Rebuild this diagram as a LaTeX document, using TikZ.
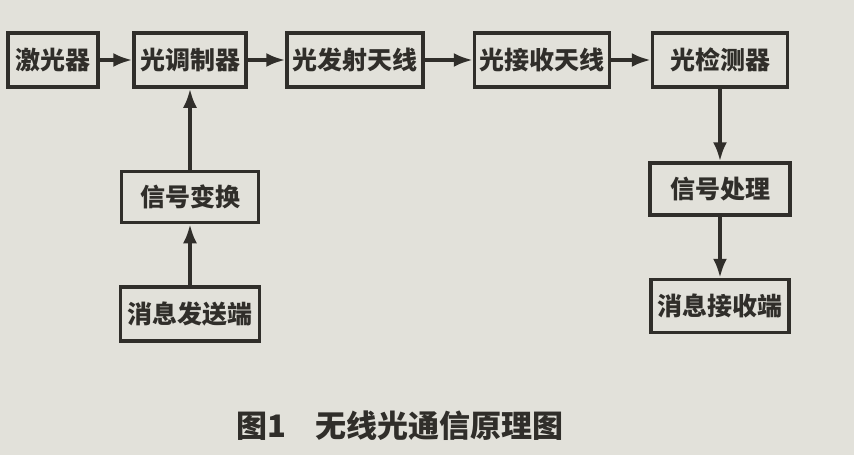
\documentclass[tikz,border=0pt]{standalone}
\usepackage{fontspec}
\setmainfont{Noto Sans CJK SC}
\usetikzlibrary{arrows.meta}
\definecolor{paper}{RGB}{226,225,218}
\definecolor{ink}{RGB}{48,46,42}

\tikzset{every picture/.style={line width=3.5pt}}
\tikzset{
  blk/.style={draw=ink, text=ink, minimum height=54, inner sep=0pt, font=\fontsize{25}{28}\selectfont\bfseries},
  arr/.style={draw=ink, -{Latex[length=19pt,width=14pt]}},
}

\begin{document}
\begin{tikzpicture}[x=1pt,y=1pt,yscale=-1,xscale=1]
		\fill[paper] (0,0) rectangle (854,455);
		\useasboundingbox (0,0) rectangle (854,455);
		
		% Top row
		\node[blk, minimum width=90] (laser) at (53,60) {激光器};
		\node[blk, minimum width=112] (mod) at (190,60) {光调制器};
		\node[blk, minimum width=136] (tx) at (355,60) {光发射天线};
		\node[blk, minimum width=135] (rx) at (542,60) {光接收天线};
		\node[blk, minimum width=135] (det) at (720,60) {光检测器};
		
		% Left column
		\node[blk, minimum width=137, minimum height=51] (conv) at (190,197) {信号变换};
		\node[blk, minimum width=139] (src) at (190,314) {消息发送端};
		
		% Right column
		\node[blk, minimum width=140, minimum height=52] (proc) at (720,189) {信号处理};
		\node[blk, minimum width=138, minimum height=53] (dst) at (720,306) {消息接收端};
		
		% Arrows
		\draw[arr] (laser) -- (mod);
		\draw[arr] (mod) -- (tx);
		\draw[arr] (tx) -- (rx);
		\draw[arr] (rx) -- (det);
		\draw[arr] (src) -- (conv);
		\draw[arr] (conv) -- (mod);
		\draw[arr] (det) -- (proc);
		\draw[arr] (proc) -- (dst);
		
		% Text Node
		\node[text=ink, font=\fontsize{31}{34}\selectfont\bfseries] (cap) at (400,426) {图1\hspace{30pt}无线光通信原理图};
		
\end{tikzpicture}
\end{document}
